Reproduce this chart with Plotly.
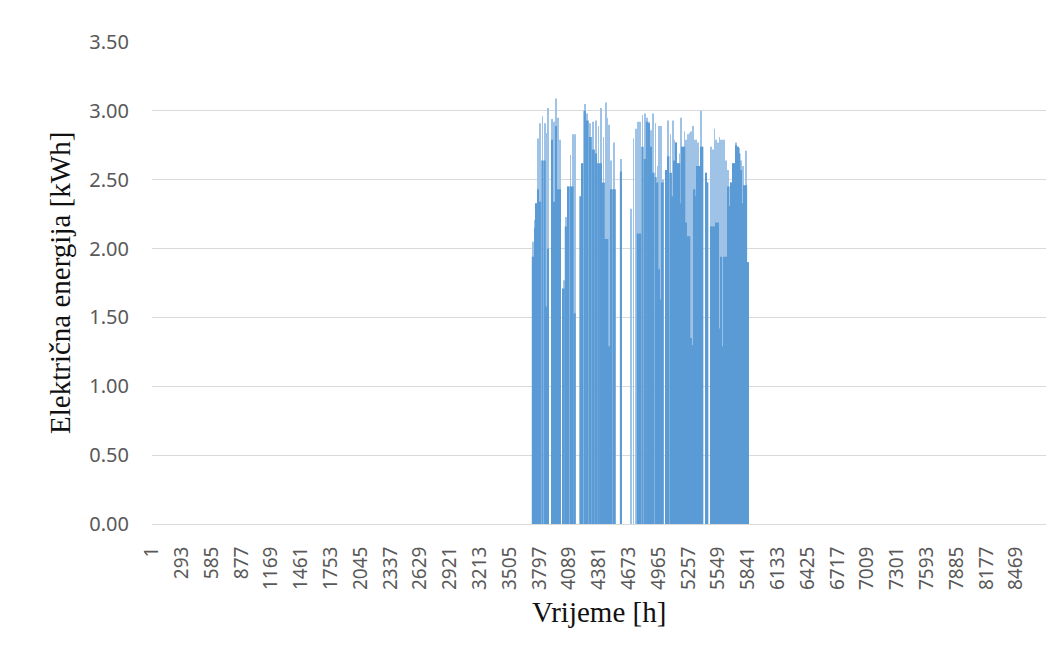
import numpy as np
import plotly.graph_objects as go

# Hour (start of each rendered segment), envelope level and peak level [kWh]
seg_start = [3722, 3745, 3762, 3775, 3792, 3815, 3838, 3858, 3872, 3887,
             3910, 3930, 3950, 3968, 3990, 4008, 4027, 4045, 4067, 4092,
             4113, 4132, 4152, 4188, 4210, 4228, 4252, 4280, 4310, 4340,
             4362, 4390, 4410, 4438, 4455, 4472, 4488, 4515, 4545, 4585,
             4605, 4686, 4698, 4712, 4726, 4736, 4750, 4772, 4795, 4818,
             4840, 4860, 4880, 4900, 4925, 4945, 4962, 4978, 4996, 5014,
             5032, 5047, 5070, 5095, 5111, 5128, 5144, 5160, 5177, 5193,
             5209, 5226, 5242, 5259, 5275, 5291, 5308, 5324, 5340, 5356,
             5371, 5387, 5403, 5421, 5436, 5452, 5471, 5487, 5504, 5520,
             5537, 5553, 5570, 5586, 5602, 5619, 5635, 5651, 5668, 5684,
             5700, 5717, 5733, 5750, 5766, 5782, 5799, 5815, 5832]
seg_end = 5848

energy_base = [1.94, 2.15, 2.33, 2.43, 2.34, 2.64, 2.64, 1.58, 2.00, 0.00,
               2.79, 2.34, 2.89, 2.43, 2.43, 0.00, 1.71, 2.16, 2.45, 2.45,
               2.45, 1.53, 0.00, 2.38, 2.62, 3.00, 2.93, 2.81, 2.72, 2.69,
               2.62, 2.62, 2.48, 2.07, 2.07, 1.29, 2.43, 2.43, 0.00, 2.56,
               0.00, 0.00, 0.00, 0.00, 0.00, 0.00, 2.11, 2.11, 2.74, 2.65,
               2.92, 2.91, 2.74, 2.55, 2.52, 2.48, 1.85, 1.63, 2.48, 0.00,
               2.57, 2.67, 2.55, 2.38, 2.64, 2.77, 2.62, 2.62, 2.33, 2.74,
               2.74, 2.19, 2.09, 2.09, 1.35, 1.30, 2.43, 2.38, 2.60, 2.60,
               2.74, 2.74, 0.00, 2.55, 2.48, 0.00, 2.16, 2.16, 2.16, 2.19,
               2.19, 1.42, 1.94, 1.29, 1.94, 1.94, 2.45, 2.31, 2.48, 2.62,
               2.62, 2.75, 2.74, 2.69, 2.57, 2.33, 2.46, 2.46, 1.90]

energy_peak = [2.05, 2.21, 2.33, 2.80, 2.91, 2.96, 2.91, 2.84, 3.02, 0.00,
               2.94, 2.92, 3.09, 2.95, 2.79, 0.00, 1.77, 2.23, 2.45, 2.68,
               2.83, 2.83, 0.00, 2.38, 2.62, 3.05, 2.98, 2.91, 2.92, 2.93,
               2.89, 3.02, 2.81, 3.06, 2.95, 2.90, 2.64, 2.77, 0.00, 2.65,
               0.00, 2.29, 0.00, 2.80, 0.00, 2.87, 2.92, 2.92, 2.97, 2.98,
               2.95, 2.92, 2.86, 2.98, 2.91, 2.60, 2.89, 2.89, 2.50, 0.00,
               2.57, 2.93, 2.83, 2.93, 2.79, 2.77, 2.62, 2.69, 2.95, 2.74,
               2.85, 2.79, 2.83, 2.84, 2.85, 2.89, 2.79, 2.79, 2.77, 2.60,
               3.00, 2.74, 0.00, 2.55, 2.48, 0.00, 2.74, 2.72, 2.87, 2.79,
               2.77, 2.81, 2.79, 2.79, 2.79, 2.64, 2.57, 2.45, 2.48, 2.62,
               2.62, 2.77, 2.74, 2.73, 2.64, 2.60, 2.46, 2.71, 1.90]

tick_hours = [1, 293, 585, 877, 1169, 1461, 1753, 2045, 2337, 2629, 2921,
              3213, 3505, 3797, 4089, 4381, 4673, 4965, 5257, 5549, 5841,
              6133, 6425, 6717, 7009, 7301, 7593, 7885, 8177, 8469]
y_ticks = [0, 0.5, 1.0, 1.5, 2.0, 2.5, 3.0, 3.5]

starts = np.array(seg_start, dtype=float)
widths = np.diff(np.append(starts, seg_end))
centers = starts + widths / 2

fig = go.Figure()
fig.add_trace(go.Bar(
    x=centers, y=energy_peak, width=7,
    marker=dict(color="#9fc2e7", line=dict(width=0)),
    hoverinfo="skip", showlegend=False))
fig.add_trace(go.Bar(
    x=starts, y=energy_base, width=widths, offset=0,
    marker=dict(color="#5b9bd5", line=dict(width=0)),
    hoverinfo="skip", showlegend=False))

fig.update_layout(
    width=1059, height=657,
    margin=dict(l=144, r=21, t=34, b=141),
    paper_bgcolor="white", plot_bgcolor="white",
    barmode="overlay",
    font=dict(family="Noto Sans", color="#595959"),
    xaxis=dict(
        range=[0.5, 8760.5],
        tickmode="array", tickvals=tick_hours,
        ticktext=[str(t) for t in tick_hours],
        tickangle=-90, tickfont=dict(size=19, color="#595959"),
        showgrid=False, zeroline=False,
        showline=True, linecolor="#d9d9d9", linewidth=1,
        ticks="", ticklabelstandoff=14,
    ),
    yaxis=dict(
        range=[0, 3.5],
        tickmode="array", tickvals=y_ticks,
        ticktext=[f"{v:.2f}" for v in y_ticks],
        tickfont=dict(size=20, color="#595959"),
        showgrid=True, gridcolor="#d9d9d9", gridwidth=1,
        zeroline=False, showline=False, ticks="",
        ticklabelstandoff=22,
    ),
    annotations=[
        dict(text="Vrijeme [h]", xref="paper", yref="paper",
             x=0.5, y=-0.183, xanchor="center", yanchor="middle",
             showarrow=False,
             font=dict(family="Liberation Serif", size=29, color="#111111")),
        dict(text="Električna energija [kWh]", xref="paper", yref="paper",
             x=-0.103, y=0.5, xanchor="center", yanchor="middle",
             textangle=-90, showarrow=False,
             font=dict(family="Liberation Serif", size=29, color="#111111")),
    ],
)

fig.write_html("out.html")
